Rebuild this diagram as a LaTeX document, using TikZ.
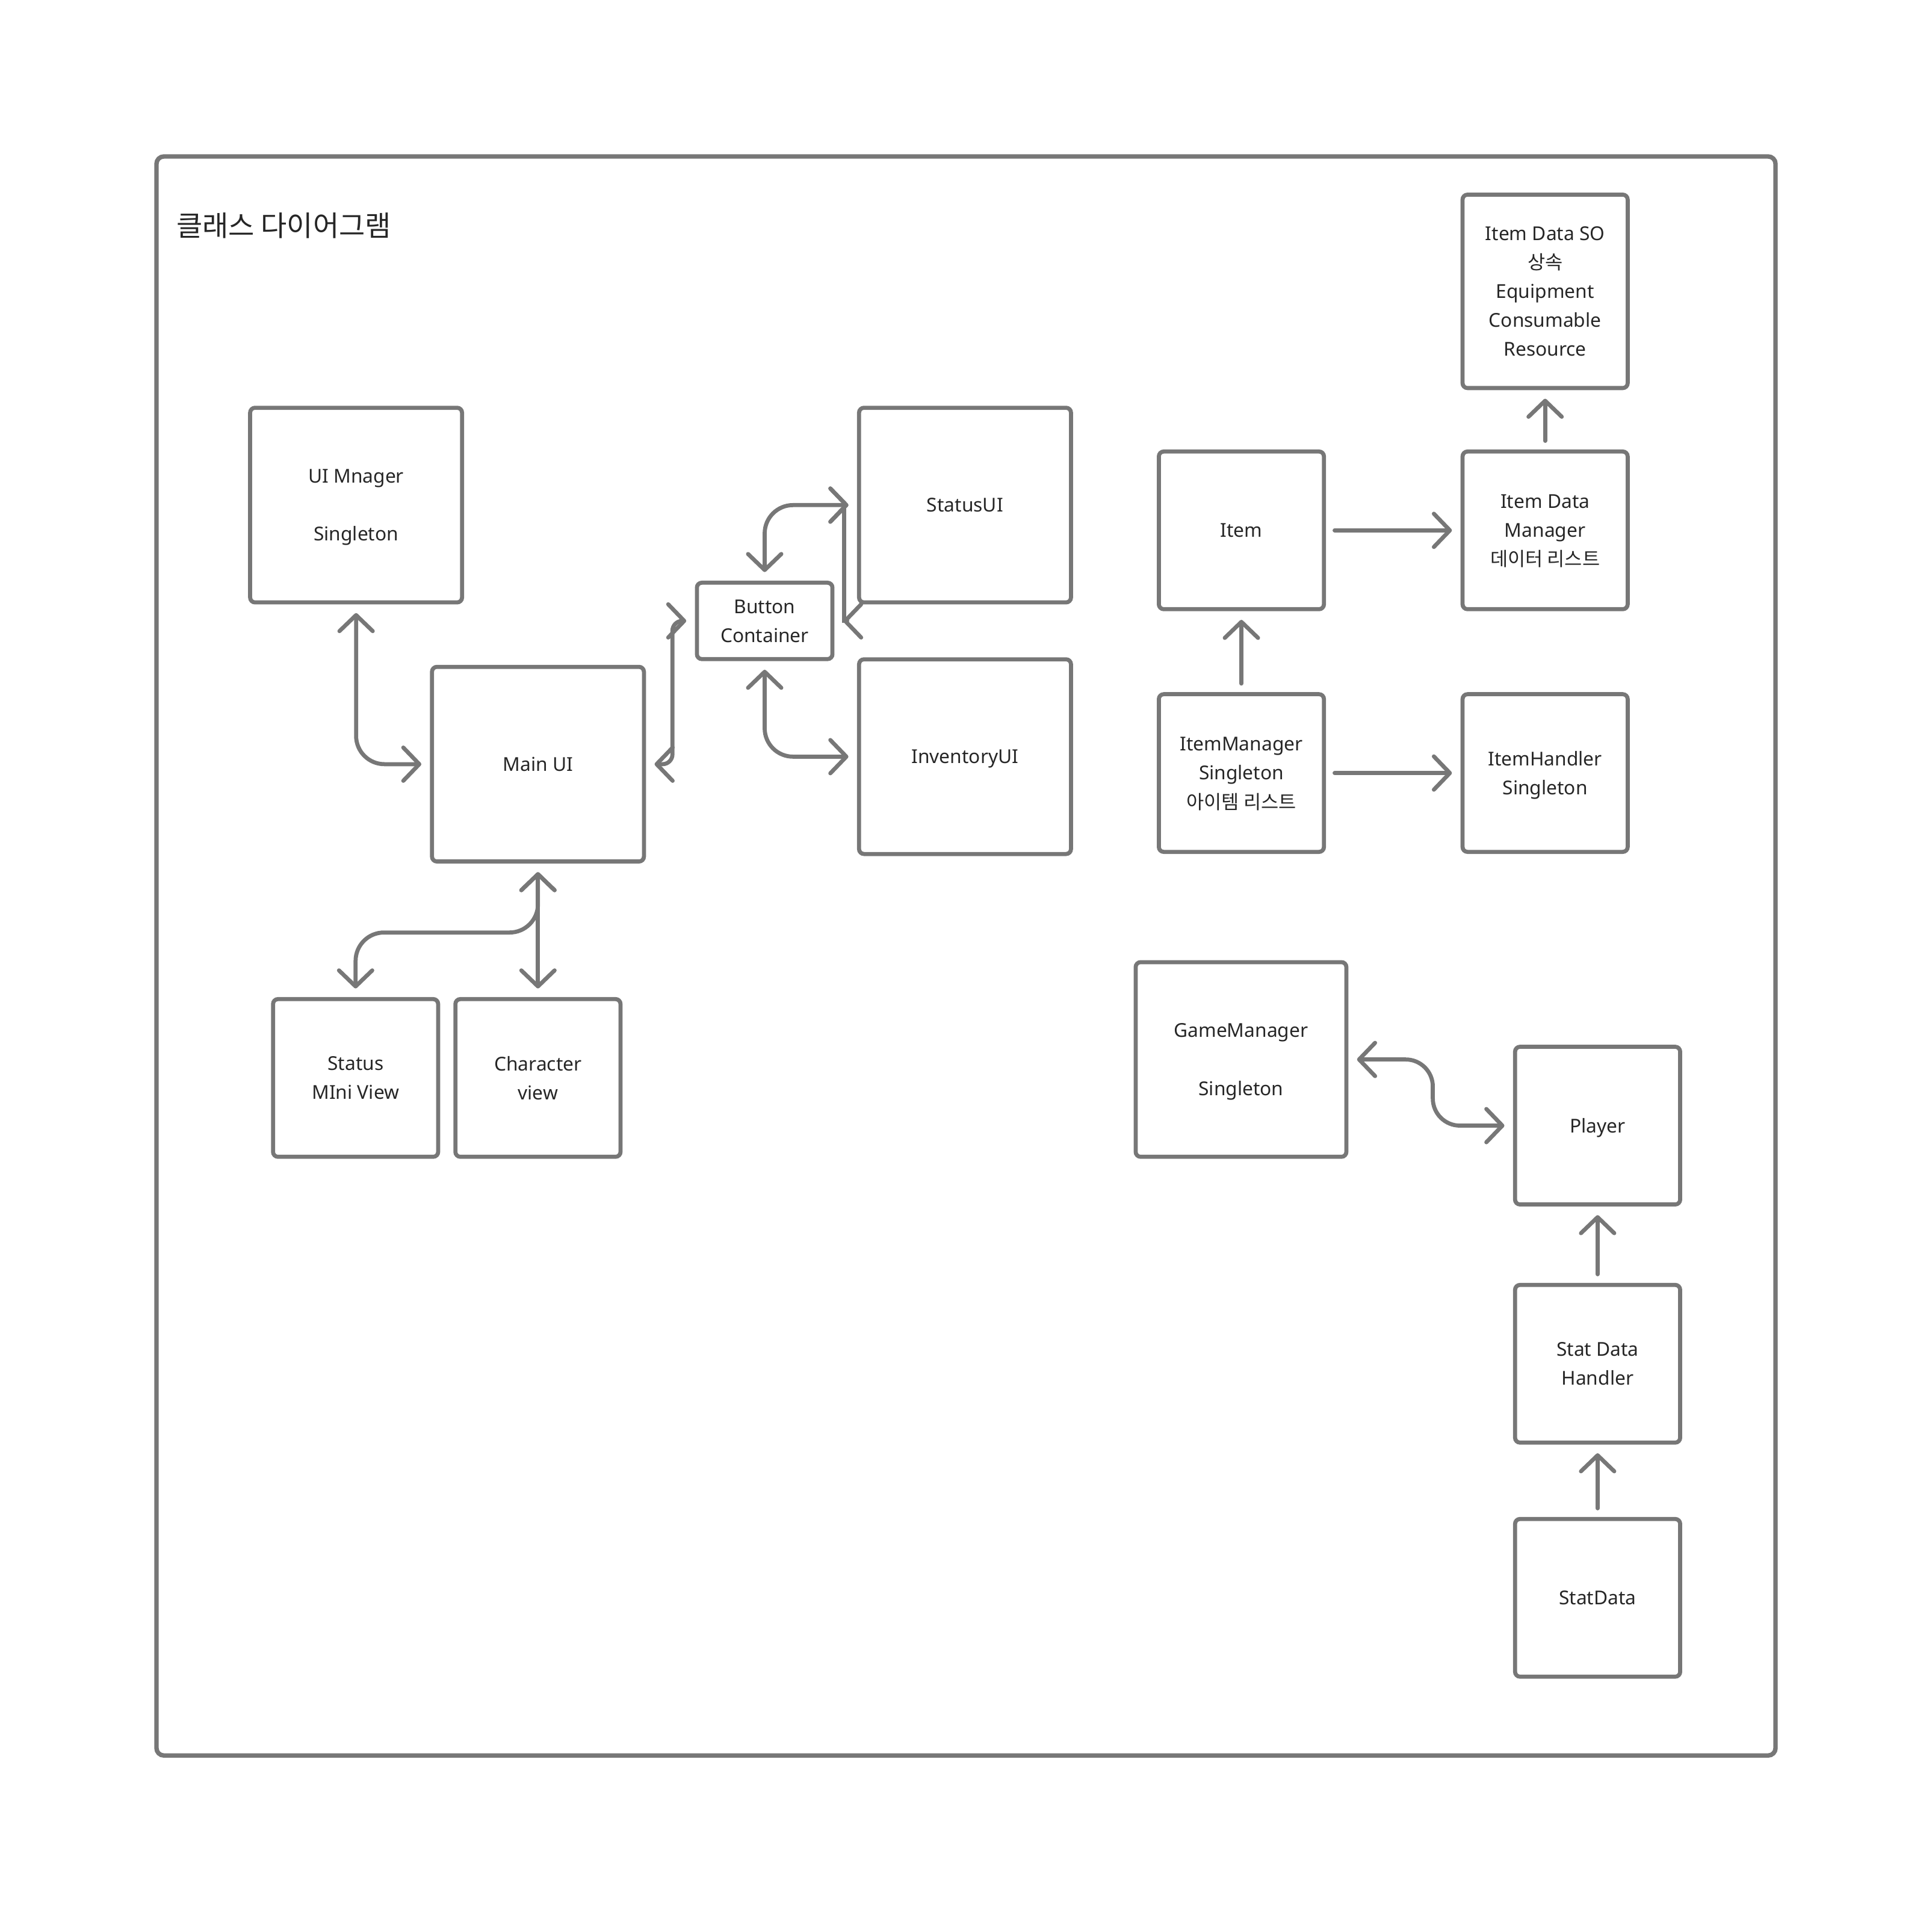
\documentclass[tikz,border=0pt]{standalone}
\usepackage{fontspec}
\setmainfont{Noto Sans}
\newfontfamily\krfont{Noto Sans CJK KR}
\usetikzlibrary{arrows.meta}

\definecolor{linegray}{HTML}{777777}
\definecolor{textgray}{HTML}{262626}
\newcommand\boxfont{\fontsize{15.5}{23.5}\selectfont}
\newcommand\kor[1]{{\krfont\fontsize{15.5}{23.5}\selectfont #1}}

\tikzset{
  box/.style={draw=linegray, line width=3.3pt, rounded corners=4pt, inner sep=0pt,
    align=center, text=textgray, font=\boxfont, text depth=0pt},
  link/.style={draw=linegray, line width=3.3pt, line cap=round,
    shorten >=7pt, shorten <=7pt},
  >={Straight Barb[length=13pt, width=27pt, line cap=round, line join=round]}
}

\begin{document}
\begin{tikzpicture}[x=1pt, y=-1pt]
        \useasboundingbox (0,0) rectangle (1568,1552.5);
        \draw[linegray, line width=3.6pt, rounded corners=6pt] (127,127) rectangle (1441,1425);
        \node[anchor=base west, text=textgray, font=\krfont\fontsize{23}{27}\selectfont, inner sep=0pt]
          (title) at (143,191.5) {클래스 다이어그램};
        % class boxes
        \foreach \nm/\cx/\cy/\w/\h/\txt in {
          uimgr/289/410/172/158/{UI Mnager\\[23.5pt]Singleton},
          mainui/436.6/620.3/172/158/{Main UI},
          btncont/620.6/504/110/62/{Button\\Container},
          statusui/783.2/410/172/158/{StatusUI},
          invui/783.2/614.2/172/158/{InventoryUI},
          statusmini/288.6/875/134/128/{Status\\MIni View},
          charview/436.6/875/134/128/{Character\\view},
          itemdataso/1254/236.5/134/157/{Item Data SO\\\kor{상속}\\Equipment\\Consumable\\Resource},
          item/1007.5/430.5/134/128/{Item},
          idmgr/1254/430.5/134/128/{Item Data\\Manager\\\kor{데이터 리스트}},
          itemmgr/1007.5/627.5/134/128/{ItemManager\\Singleton\\\kor{아이템 리스트}},
          itemhandler/1254/627.5/134/128/{ItemHandler\\Singleton},
          gamemgr/1007.2/860/171/158/{GameManager\\[23.5pt]Singleton},
          player/1296.6/913.7/134/128/{Player},
          sdhandler/1296.6/1107/134/128/{Stat Data\\Handler},
          statdata/1296.6/1297/134/128/{StatData}} {
          \node[box, minimum width=\w pt, minimum height=\h pt] (\nm) at (\cx,\cy) {\txt};
        }
        % UI side
        \draw[link, <->, rounded corners=23pt] (uimgr.south) |- (mainui.west);
        \draw[link, <->, rounded corners=8pt] (mainui.east) -- ++(21.5,0) |- (btncont.west);
        \draw[link, <->, rounded corners=23pt] (btncont.north) |- (statusui.west);
        \draw[link, <->] (statusui.west) -- ++(-10.5,0) |- (btncont.east);
        \draw[link, <->, rounded corners=23pt] (btncont.south) |- (invui.west);
        \draw[link, <->] (mainui.south) -- (charview.north);
        \draw[link, <->, rounded corners=23pt] (mainui.south) -- ++(0,56) -| (statusmini.north);
        % item side
        \draw[link, ->] (item.east) -- (idmgr.west);
        \draw[link, ->] (itemmgr.north) -- (item.south);
        \draw[link, ->] (idmgr.north) -- (itemdataso.south);
        \draw[link, ->] (itemmgr.east) -- (itemhandler.west);
        % player side
        \draw[link, <->, rounded corners=22pt] (gamemgr.east) -- ++(68.5,0) |- (player.west);
        \draw[link, ->] (sdhandler.north) -- (player.south);
        \draw[link, ->] (statdata.north) -- (sdhandler.south);
\end{tikzpicture}
\end{document}
